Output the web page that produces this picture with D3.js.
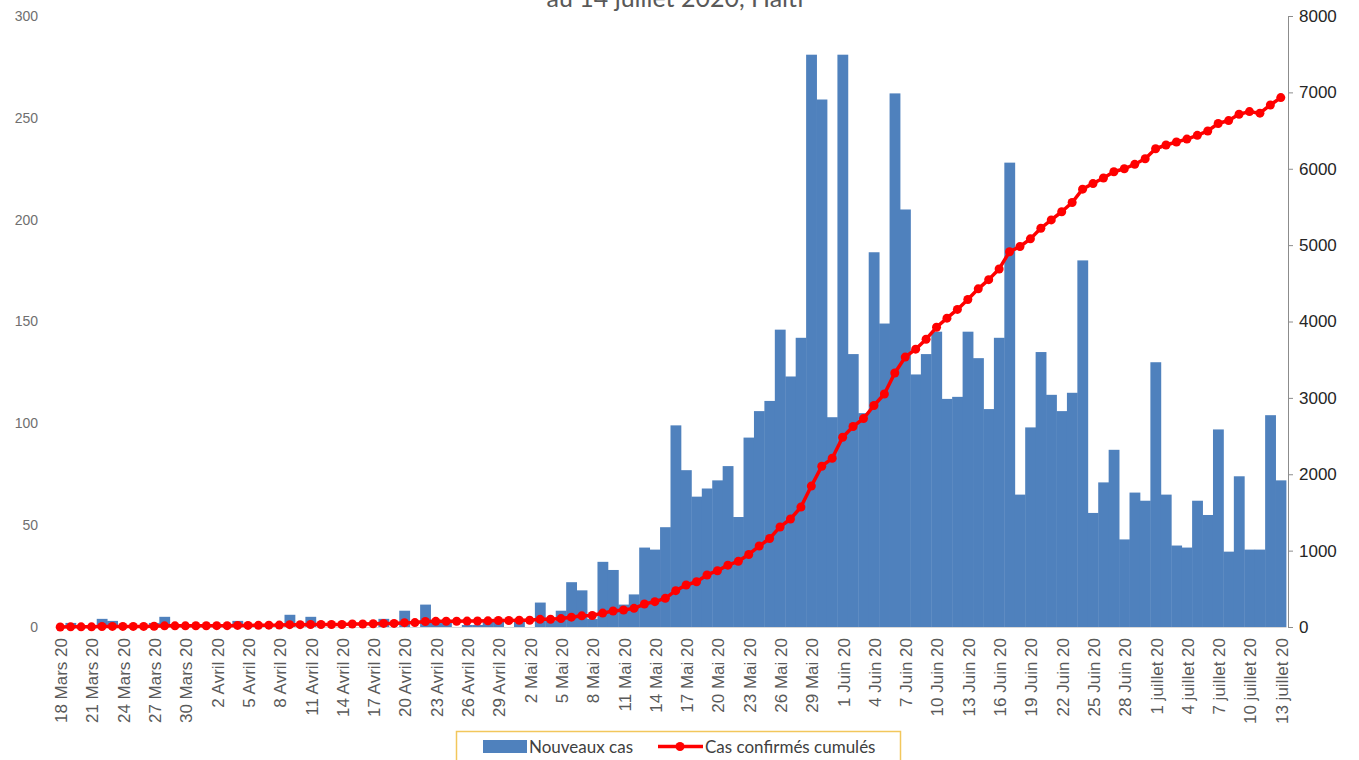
<!DOCTYPE html>
<html>
<head>
<meta charset="utf-8">
<script src="https://cdn.jsdelivr.net/npm/d3@7"></script>
<style>
    body { margin: 0; background: #fff; }
    svg { display: block; font-family: Lato, "Open Sans", sans-serif; }
</style>
</head>
<body>
<svg id="chart" width="1359" height="760"></svg>
<script>

// categories: one per day, 18 mars -> 13 juillet 2020
var monthNames = ['janvier', 'fevrier', 'Mars', 'Avril', 'Mai', 'Juin', 'juillet'];
var days = d3.timeDay.range(new Date(2020, 2, 18), new Date(2020, 6, 14));

// Nouveaux cas (left axis)
var newCases = [
    0, 2, 0, 0, 4, 3, 0, 0, 0, 2,
    5, 0, 0, 0, 0, 0, 0, 3, 0, 0,
    0, 0, 6, 0, 5, 0, 0, 0, 0, 0,
    0, 4, 0, 8, 0, 11, 2, 2, 0, 1,
    1, 3, 4, 0, 3, 0, 12, 3, 8, 22,
    18, 4, 32, 28, 11, 16, 39, 38, 49, 99,
    77, 64, 68, 72, 79, 54, 93, 106, 111, 146,
    123, 142, 281, 259, 103, 281, 134, 105, 184, 149,
    262, 205, 124, 134, 145, 112, 113, 145, 132, 107,
    142, 228, 65, 98, 135, 114, 106, 115, 180, 56,
    71, 87, 43, 66, 62, 130, 65, 40, 39, 62,
    55, 97, 37, 74, 38, 38, 104, 72
];

// Cas confirmes cumules (right axis)
var cumulCases = [
    0, 2, 2, 2, 6, 8, 8, 8, 8, 10,
    15, 15, 15, 16, 16, 18, 18, 21, 21, 22,
    24, 25, 31, 31, 33, 33, 33, 33, 40, 40,
    43, 47, 47, 57, 58, 72, 74, 76, 76, 77,
    78, 81, 85, 85, 88, 88, 100, 101, 110, 129,
    146, 151, 182, 209, 222, 244, 301, 332, 375, 476,
    550, 593, 681, 737, 810, 860, 950, 1060, 1159, 1310,
    1414, 1570, 1845, 2105, 2209, 2484, 2625, 2729, 2900, 3051,
    3326, 3534, 3638, 3768, 3924, 4044, 4158, 4288, 4428, 4548,
    4688, 4914, 4982, 5082, 5221, 5330, 5437, 5558, 5733, 5806,
    5879, 5961, 6000, 6058, 6131, 6262, 6311, 6350, 6388, 6437,
    6495, 6592, 6631, 6714, 6748, 6728, 6835, 6932
];

var leftTicks = [0, 50, 100, 150, 200, 250, 300];
var rightTicks = [0, 1000, 2000, 3000, 4000, 5000, 6000, 7000, 8000];

var titleText = 'au 14 juillet 2020, Haiti';
var legendLabels = ['Nouveaux cas', 'Cas confirmés cumulés'];

var barColor = '#4f81bd';
var lineColor = '#ff0000';

var svg = d3.select('#chart');

var x = d3.scaleBand()
    .domain(d3.range(days.length))
    .range([55, 1286])
    .padding(0);

var yLeft = d3.scaleLinear().domain([0, 300]).range([627, 16]);
var yRight = d3.scaleLinear().domain([0, 8000]).range([627, 16]);

// title (top part is cut off in the original)
svg.append('text')
    .attr('x', 675)
    .attr('y', 7)
    .attr('text-anchor', 'middle')
    .style('font-size', '25px')
    .style('fill', '#595959')
    .text(titleText);

// bars
svg.append('g')
    .attr('class', 'bars')
    .selectAll('rect')
    .data(newCases)
    .enter().append('rect')
    .attr('x', function(d, i) { return x(i); })
    .attr('width', x.bandwidth() + 0.4)
    .attr('y', function(d) { return yLeft(d); })
    .attr('height', function(d) { return yLeft(0) - yLeft(d); })
    .attr('fill', barColor);

// x axis
var xAxis = d3.axisBottom(x)
    .tickValues(d3.range(0, days.length, 3))
    .tickSize(0)
    .tickFormat(function(i) {
        var d = days[i];
        return d.getDate() + ' ' + monthNames[d.getMonth()] + ' 20';
    });

var gx = svg.append('g')
    .attr('transform', 'translate(0,627)')
    .call(xAxis);
gx.select('.domain').attr('stroke', '#d9d9d9');
gx.selectAll('text')
    .attr('transform', 'rotate(-90)')
    .attr('x', -11)
    .attr('y', 1)
    .attr('dy', '0.35em')
    .style('text-anchor', 'end')
    .style('font-size', '17px')
    .style('fill', '#595959');

// left axis, labels only
var gl = svg.append('g')
    .attr('transform', 'translate(55,0)')
    .call(d3.axisLeft(yLeft).tickValues(leftTicks).tickSize(0).tickPadding(17));
gl.select('.domain').remove();
gl.selectAll('text')
    .style('font-size', '14px')
    .style('fill', '#6f6f6f');

// right axis
var gr = svg.append('g')
    .attr('transform', 'translate(1288,0)')
    .call(d3.axisRight(yRight).tickValues(rightTicks).tickFormat(d3.format('d'))
        .tickSizeOuter(0).tickSize(5).tickPadding(6));
gr.select('.domain').attr('stroke', '#8c8c8c');
gr.selectAll('.tick line').attr('stroke', '#8c8c8c');
gr.selectAll('text')
    .style('font-size', '17px')
    .style('fill', '#262626');

// cumulative line
var line = d3.line()
    .x(function(d, i) { return x(i) + x.bandwidth() / 2; })
    .y(function(d) { return yRight(d); });

svg.append('path')
    .datum(cumulCases)
    .attr('d', line)
    .attr('fill', 'none')
    .attr('stroke', lineColor)
    .attr('stroke-width', 3.5)
    .attr('stroke-linejoin', 'round');

svg.append('g')
    .selectAll('circle')
    .data(cumulCases)
    .enter().append('circle')
    .attr('cx', function(d, i) { return x(i) + x.bandwidth() / 2; })
    .attr('cy', function(d) { return yRight(d); })
    .attr('r', 4.5)
    .attr('fill', lineColor);

// legend
var legend = svg.append('g').attr('class', 'legend');
legend.append('rect')
    .attr('x', 456.5).attr('y', 731.5)
    .attr('width', 444).attr('height', 40)
    .attr('fill', '#fff')
    .attr('stroke', '#f2c75c')
    .attr('stroke-width', 1.5);
legend.append('rect')
    .attr('x', 483).attr('y', 740)
    .attr('width', 44).attr('height', 13)
    .attr('fill', barColor);
legend.append('line')
    .attr('x1', 658).attr('x2', 703)
    .attr('y1', 746.5).attr('y2', 746.5)
    .attr('stroke', lineColor)
    .attr('stroke-width', 3.5);
legend.append('circle')
    .attr('cx', 680).attr('cy', 746.5).attr('r', 4.5)
    .attr('fill', lineColor);
legend.selectAll('text.lbl')
    .data(legendLabels)
    .enter().append('text')
    .attr('class', 'lbl')
    .attr('x', function(d, i) { return i ? 705 : 529; })
    .attr('y', 753)
    .style('font-size', '17px')
    .style('fill', '#404040')
    .text(function(d) { return d; });

</script>
</body>
</html>
